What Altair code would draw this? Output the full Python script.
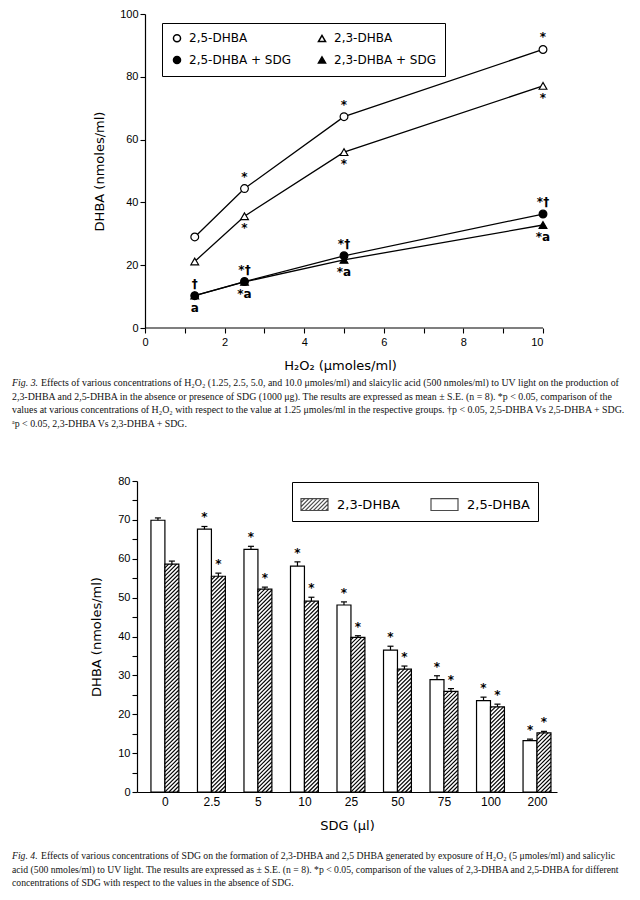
import json
import altair as alt
import pandas as pd

# ---------------- Fig. 3 data ----------------
h2o2 = [1.25, 2.5, 5.0, 10.0]
dhba25 = [29.0, 44.4, 67.3, 88.7]
dhba23 = [21.2, 35.6, 56.0, 77.1]
dhba25_sdg = [10.3, 14.8, 23.0, 36.3]
dhba23_sdg = [10.3, 14.7, 21.7, 32.8]
series3 = ["2,5-DHBA", "2,5-DHBA + SDG", "2,3-DHBA", "2,3-DHBA + SDG"]
shapes3 = ["circle", "circle", "triangle-up", "triangle-up"]
fills3 = ["white", "black", "white", "black"]
sig25 = ["", "*", "*", "*"]
sig23 = ["", "*", "*", "*"]
sig25_sdg = ["†", "*†", "*†", "*†"]
sig23_sdg = ["a", "*a", "*a", "*a"]

# ---------------- Fig. 4 data ----------------
sdg = ["0", "2.5", "5", "10", "25", "50", "75", "100", "200"]
bar25 = [69.9, 67.6, 62.4, 58.1, 48.1, 36.5, 28.9, 23.5, 13.2]
se25 = [0.6, 0.7, 0.8, 1.1, 0.8, 1.0, 1.0, 0.9, 0.4]
bar23 = [58.6, 55.5, 52.2, 49.1, 39.8, 31.6, 25.9, 21.9, 15.2]
se23 = [0.8, 0.8, 0.5, 1.0, 0.4, 0.8, 0.7, 0.7, 0.4]
sig_bar = ["", "*", "*", "*", "*", "*", "*", "*", "*"]
series4 = ["2,3-DHBA", "2,5-DHBA"]

# ---------------- captions ----------------
fig3_label = "Fig. 3."
fig3_caption = [
    "Effects of various concentrations of H₂O₂ (1.25, 2.5, 5.0, and 10.0 μmoles/ml) and slaicylic acid (500 nmoles/ml) to UV light on the production of",
    "2,3-DHBA and 2,5-DHBA in the absence or presence of SDG (1000 μg). The results are expressed as mean ± S.E. (n = 8). *p < 0.05, comparison of the",
    "values at various concentrations of H₂O₂ with respect to the value at 1.25 μmoles/ml in the respective groups. †p < 0.05, 2,5-DHBA Vs 2,5-DHBA + SDG.",
    "ᵃp < 0.05, 2,3-DHBA Vs 2,3-DHBA + SDG.",
]
fig4_label = "Fig. 4."
fig4_caption = [
    "Effects of various concentrations of SDG on the formation of 2,3-DHBA and 2,5 DHBA generated by exposure of H₂O₂ (5 μmoles/ml) and salicylic",
    "acid (500 nmoles/ml) to UV light. The results are expressed as ± S.E. (n = 8). *p < 0.05, comparison of the values of 2,3-DHBA and 2,5-DHBA for different",
    "concentrations of SDG with respect to the values in the absence of SDG.",
]

SANS = "DejaVu Sans"
LABEL_FONT = "Liberation Sans"
SERIF = "Liberation Serif"
CAP_LH = 13.6


def caption_layers(label, lines, x0, x1, y0, fs):
    one = alt.Data(values=[{}])
    lab = alt.Chart(one).mark_text(
        align="left", baseline="middle", font=SERIF, fontSize=fs,
        fontStyle="italic", color="#111"
    ).encode(x=alt.value(x0), y=alt.value(y0), text=alt.value(label))
    first = alt.Chart(one).mark_text(
        align="left", baseline="middle", font=SERIF, fontSize=fs, color="#111"
    ).encode(x=alt.value(x1), y=alt.value(y0), text=alt.value(lines[0]))
    rest = alt.Chart(one).mark_text(
        align="left", baseline="middle", font=SERIF, fontSize=fs, color="#111",
        lineHeight=CAP_LH
    ).encode(x=alt.value(x0), y=alt.value(y0 + CAP_LH), text=alt.value(lines[1:]))
    return [lab, first, rest]


# ================= Fig. 3 chart =================
SHIFT = 8            # px: top plot's y axis sits this far right of the bottom one
PX_PER_UNIT3 = 39.8  # px per H2O2 unit
W1, H1 = 398 + SHIFT, 314
values3 = [dhba25, dhba25_sdg, dhba23, dhba23_sdg]
df3 = pd.DataFrame([
    {"h2o2": x, "dhba": v, "series": s}
    for s, vals in zip(series3, values3) for x, v in zip(h2o2, vals)
])
above = pd.DataFrame([
    {"h2o2": x, "dhba": v, "mark": m}
    for vals, sig in [(dhba25, sig25), (dhba25_sdg, sig25_sdg)]
    for x, v, m in zip(h2o2, vals, sig) if m
])
below = pd.DataFrame([
    {"h2o2": x, "dhba": v, "mark": m}
    for vals, sig in [(dhba23, sig23), (dhba23_sdg, sig23_sdg)]
    for x, v, m in zip(h2o2, vals, sig) if m
])

xs3 = alt.Scale(domain=[-SHIFT / PX_PER_UNIT3, 10], nice=False, zero=False)
ys3 = alt.Scale(domain=[0, 100], nice=False)
x3 = alt.X("h2o2:Q", scale=xs3, axis=alt.Axis(
    values=list(range(0, 11)), labelExpr="datum.value % 2 === 0 ? datum.label : ''",
    title="H₂O₂ (μmoles/ml)", titlePadding=12, labelPadding=3, domain=False))
y3 = alt.Y("dhba:Q", scale=ys3, axis=alt.Axis(
    values=list(range(0, 101, 10)), labelExpr="datum.value % 20 === 0 ? datum.label : ''",
    title="DHBA (nmoles/ml)", titlePadding=13, offset=-SHIFT))

leg3 = alt.Legend(
    title=None, orient="none", legendX=17 + SHIFT, legendY=9, columns=2,
    strokeColor="black", padding=9, labelFont=SANS, labelFontSize=12,
    labelColor="black", symbolSize=50, columnPadding=24, rowPadding=8,
    labelOffset=6,
)

baseline3 = alt.Chart(alt.Data(values=[{}])).mark_rule(color="black", strokeWidth=1.2).encode(
    x=alt.X(datum=0, type="quantitative", scale=xs3),
    x2=alt.X2(datum=10),
    y=alt.Y(datum=0, type="quantitative", scale=ys3),
)
lines3 = alt.Chart(df3).mark_line(color="black", strokeWidth=1.3).encode(
    x=x3, y=y3, detail="series:N")
points3 = alt.Chart(df3).mark_point(
    filled=True, stroke="black", strokeWidth=1.2, size=60, opacity=1
).encode(
    x=x3, y=y3,
    shape=alt.Shape("series:N", scale=alt.Scale(domain=series3, range=shapes3), legend=leg3),
    color=alt.Color("series:N", scale=alt.Scale(domain=series3, range=fills3), legend=leg3),
)
ann_above = alt.Chart(above).mark_text(
    dy=-12, fontSize=12, font=SANS, fontWeight="bold", color="black"
).encode(x=x3, y=y3, text="mark:N")
ann_below = alt.Chart(below).mark_text(
    dy=12, fontSize=12, font=SANS, fontWeight="bold", color="black"
).encode(x=x3, y=y3, text="mark:N")

top = alt.layer(
    lines3, points3, ann_above, ann_below, baseline3,
    *caption_layers(fig3_label, fig3_caption, -125, -96, 369, 9.9),
).properties(width=W1, height=H1)

# ================= Fig. 4 chart =================
W2, H2 = 420, 311
X2_DOM = [-0.6, 8.43]
Y2_DOM = [0, 80]
BAR_W = 0.3
CAP_HALF = 0.065
px_x = W2 / (X2_DOM[1] - X2_DOM[0])
px_y = H2 / (Y2_DOM[1] - Y2_DOM[0])

rows = []
for i in range(len(sdg)):
    rows.append({"series": "2,5-DHBA", "xa": i - BAR_W, "xb": i, "mid": i - BAR_W / 2,
                 "top": bar25[i], "base": 0, "errtop": bar25[i] + se25[i], "sig": sig_bar[i]})
    rows.append({"series": "2,3-DHBA", "xa": i, "xb": i + BAR_W, "mid": i + BAR_W / 2,
                 "top": bar23[i], "base": 0, "errtop": bar23[i] + se23[i], "sig": sig_bar[i]})
df4 = pd.DataFrame(rows)
df4["capa"] = df4["mid"] - CAP_HALF
df4["capb"] = df4["mid"] + CAP_HALF

# diagonal hatching of the 2,3-DHBA bars, derived from bar values
HATCH = 4.0  # px spacing
segs = []
for i, v in enumerate(bar23):
    x0 = i
    Wp = BAR_W * px_x
    Hp = v * px_y
    c = -Wp + HATCH / 2
    while c < Hp:
        xs = max(0.0, -c)
        xe = min(Wp, Hp - c)
        if xe > xs:
            segs.append({"xa": x0 + xs / px_x, "xb": x0 + xe / px_x,
                         "top": (xs + c) / px_y, "base": (xe + c) / px_y})
        c += HATCH
hatch_df = pd.DataFrame(segs)

xs4 = alt.Scale(domain=X2_DOM, nice=False, zero=False)
ys4 = alt.Scale(domain=Y2_DOM, nice=False)
x_axis4 = alt.Axis(values=list(range(len(sdg))),
                   labelExpr=json.dumps(sdg) + "[datum.value]",
                   ticks=False, title="SDG (μl)", labelPadding=4, titlePadding=12,
                   labelFontSize=12)
y_axis4 = alt.Axis(values=list(range(0, 81, 5)),
                   labelExpr="datum.value % 10 === 0 ? datum.label : ''",
                   title="DHBA (nmoles/ml)", titlePadding=14)


def X4(field):
    return alt.X(field, type="quantitative", scale=xs4, axis=x_axis4, title="SDG (μl)")


def Y4(field):
    return alt.Y(field, type="quantitative", scale=ys4, axis=y_axis4, title="DHBA (nmoles/ml)")


bars = alt.Chart(df4).mark_rect(fill="white", stroke="black", strokeWidth=1.2).encode(
    x=X4("xa"), x2="xb:Q", y=Y4("top"), y2="base:Q")
hatch = alt.Chart(hatch_df).mark_rule(color="black", strokeWidth=1.1).encode(
    x=X4("xa"), x2="xb:Q", y=Y4("top"), y2="base:Q")
err = alt.Chart(df4).mark_rule(color="black", strokeWidth=1.2).encode(
    x=X4("mid"), y=Y4("top"), y2="errtop:Q")
cap = alt.Chart(df4).mark_rule(color="black", strokeWidth=1.2).encode(
    x=X4("capa"), x2="capb:Q", y=Y4("errtop"))
stars = alt.Chart(df4).mark_text(
    dy=-9, fontSize=12, font=SANS, fontWeight="bold", color="black"
).encode(x=X4("mid"), y=Y4("errtop"), text="sig:N")


def swatch_path(hatched):
    p = "M-1,-0.44L1,-0.44L1,0.44L-1,0.44Z"
    if hatched:
        hh = 0.88
        a = -1 - hh + 0.3
        while a < 1:
            s = max(a, -1.0)
            e = min(a + hh, 1.0)
            p += "M{:.3f},{:.3f}L{:.3f},{:.3f}".format(s, 0.44 - (s - a), e, 0.44 - (e - a))
            a += 0.3
    return p


leg4 = alt.Legend(
    title=None, orient="none", legendX=155, legendY=1, direction="horizontal",
    strokeColor="black", padding=8, labelFont=SANS, labelFontSize=13,
    labelColor="black", symbolSize=729, symbolStrokeColor="black",
    symbolStrokeWidth=1.2, symbolFillColor="white", columnPadding=28, labelOffset=8,
)
legend4 = alt.Chart(pd.DataFrame({"series": series4})).mark_point(
    filled=False, color="black", size=729, strokeWidth=1.2, clip=True
).encode(
    x=alt.value(-1000), y=alt.value(-1000),
    shape=alt.Shape("series:N", scale=alt.Scale(
        domain=series4, range=[swatch_path(True), swatch_path(False)]), legend=leg4),
)

bottom = alt.layer(
    bars, hatch, err, cap, stars, legend4,
    *caption_layers(fig4_label, fig4_caption, -125, -96, 375, 9.7),
).properties(width=W2, height=H2)

chart = alt.concat(top, bottom, columns=1, spacing=46).resolve_scale(
    shape="independent", color="independent"
).resolve_legend(
    shape="independent", color="independent"
).properties(
    padding={"left": 4, "top": 0, "right": 0, "bottom": 0}
).configure_view(stroke=None).configure_axis(
    grid=False, domainColor="black", tickColor="black", labelColor="black",
    titleColor="black", labelFont=LABEL_FONT, labelFontSize=11, titleFont=SANS,
    titleFontSize=13, titleFontWeight="normal", tickSize=5, domainWidth=1.2,
    tickWidth=1.1,
)

chart.save("out.html", embed_options={"renderer": "svg", "actions": False})
